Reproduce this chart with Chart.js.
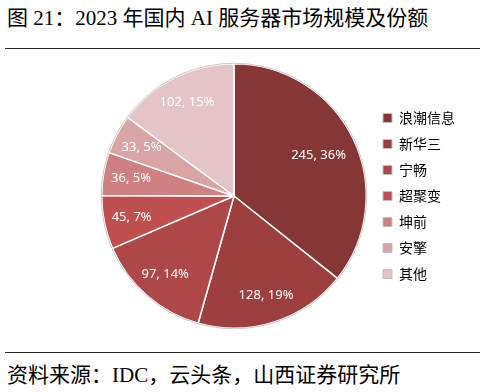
<!DOCTYPE html>
<html>
<head>
<meta charset="utf-8">
<script src="https://cdn.jsdelivr.net/npm/chart.js@4.4.1/dist/chart.umd.min.js"></script>
<style>
    body { margin: 0; background: #fff; }
    #wrap { position: relative; width: 485px; height: 392px; overflow: hidden; }
    .caption {
        position: absolute; left: 7px; white-space: nowrap;
        font-family: "Liberation Serif", "Noto Sans CJK SC", serif;
        font-size: 21px; color: #000;
    }
    #title { top: 1px; }
    #source { top: 358px; }
    .rule { position: absolute; left: 5px; width: 475px; height: 0; border-top: 1.5px solid #222; }
    #chartBox { position: absolute; left: 0; top: 50px; width: 485px; height: 300px; }
</style>
</head>
<body>
<div id="wrap">
    <div id="title" class="caption">图 21：2023 年国内 AI 服务器市场规模及份额</div>
    <div class="rule" style="top:48px"></div>
    <div id="chartBox"><canvas id="pieChart"></canvas></div>
    <div class="rule" style="top:352px"></div>
    <div id="source" class="caption">资料来源：IDC，云头条，山西证券研究所</div>
</div>
<script>
// ===================================
// Data
// ===================================
const vendors = ['浪潮信息', '新华三', '宁畅', '超聚变', '坤前', '安擎', '其他'];
const shipments = [245, 128, 97, 45, 36, 33, 102];
const shares = [36, 19, 14, 7, 5, 5, 15];

const sliceColors = ['#873636', '#9d3f3f', '#ae4747', '#c04f4f', '#cf8080', '#d9a4a4', '#e4c4c6'];

// draws "value, share%" inside each slice and the thin outer ring
const sliceLabels = {
    id: 'sliceLabels',
    afterDatasetsDraw(chart) {
        const ctx = chart.ctx;
        const meta = chart.getDatasetMeta(0);
        ctx.save();
        ctx.font = '13px "Noto Sans", "Open Sans", sans-serif';
        ctx.fillStyle = '#ffffff';
        ctx.textAlign = 'center';
        ctx.textBaseline = 'middle';
        meta.data.forEach((arc, i) => {
            const p = arc.getProps(['x', 'y', 'startAngle', 'endAngle', 'outerRadius'], true);
            const mid = (p.startAngle + p.endAngle) / 2;
            const f = i === 0 ? 0.71 : 0.79;
            ctx.fillText(shipments[i] + ', ' + shares[i] + '%',
                p.x + Math.cos(mid) * p.outerRadius * f,
                p.y + Math.sin(mid) * p.outerRadius * f);
        });
        const a = meta.data[0];
        if (a) {
            ctx.beginPath();
            ctx.arc(a.x, a.y, a.outerRadius + 0.5, 0, Math.PI * 2);
            ctx.strokeStyle = '#c8c8c8';
            ctx.lineWidth = 1;
            ctx.stroke();
        }
        ctx.restore();
    }
};

document.addEventListener('DOMContentLoaded', function() {
    const ctx = document.getElementById('pieChart').getContext('2d');
    new Chart(ctx, {
        type: 'pie',
        data: {
            labels: vendors,
            datasets: [{
                data: shipments,
                backgroundColor: sliceColors,
                borderColor: '#ffffff',
                borderWidth: 1.5
            }]
        },
        options: {
            responsive: true,
            maintainAspectRatio: false,
            animation: false,
            layout: {
                padding: { top: 13, bottom: 21, left: 97, right: 20 }
            },
            plugins: {
                tooltip: { enabled: false },
                legend: {
                    display: true,
                    position: 'right',
                    labels: {
                        boxWidth: 9,
                        boxHeight: 9,
                        padding: 12,
                        color: '#595959',
                        font: { family: '"Noto Sans CJK SC", sans-serif', size: 14 },
                        generateLabels: function(chart) {
                            return vendors.map((name, i) => ({
                                text: name,
                                fillStyle: sliceColors[i],
                                strokeStyle: '#bfbfbf',
                                lineWidth: 1,
                                index: i
                            }));
                        }
                    }
                }
            }
        },
        plugins: [sliceLabels]
    });
});
</script>
</body>
</html>
